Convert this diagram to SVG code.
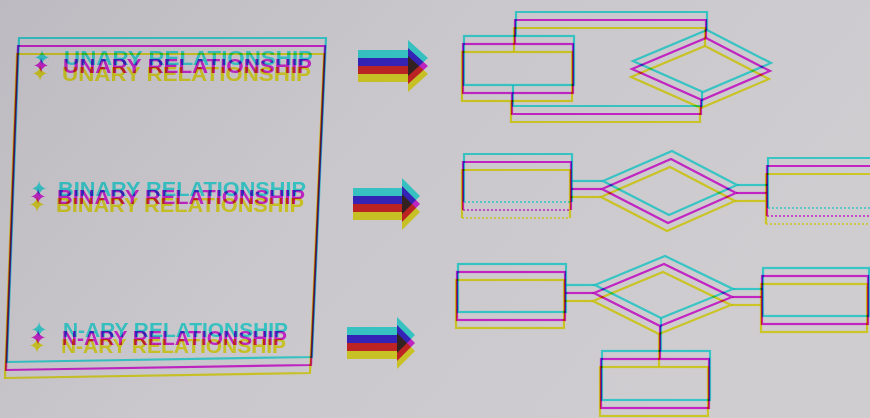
<svg xmlns="http://www.w3.org/2000/svg" xmlns:xlink="http://www.w3.org/1999/xlink" width="870" height="418" viewBox="0 0 870 418">
<defs>
<linearGradient id="bg" x1="0" y1="0" x2="1" y2="0.4">
<stop offset="0" stop-color="#bdbac1"/>
<stop offset="0.45" stop-color="#c9c7cb"/>
<stop offset="1" stop-color="#cfcdd0"/>
</linearGradient>
</defs>
<style>
.ln{fill:none;stroke:currentColor;stroke-width:2.2}
.dot{fill:none;stroke:currentColor;stroke-width:1.6;stroke-dasharray:2 2}
.fl{fill:currentColor;stroke:none}
.tx{fill:currentColor;font-family:"Liberation Sans",Arial,sans-serif;font-weight:bold;font-size:20px}
.bu{fill:currentColor;font-family:"DejaVu Sans",sans-serif;font-size:21px;text-anchor:middle}
.c{color:#45f6f2;mix-blend-mode:multiply}
.m{color:#f02ef0;mix-blend-mode:multiply}
.y{color:#fbf52e;mix-blend-mode:multiply}
</style>
<rect width="870" height="418" fill="url(#bg)"/>

<!-- left list panel -->
<g id="list-panel">
  <use href="#s-panel" class="c" transform="translate(1,-8)"/>
  <g class="m"><g id="s-panel">
    <path class="ln" d="M18,46 L325,46 L311,365 L6,370 Z"/>
    <text class="bu" x="41" y="73">✦</text>
    <text class="tx" x="63" y="73" textLength="249" lengthAdjust="spacingAndGlyphs">UNARY RELATIONSHIP</text>
    <text class="bu" x="38" y="204">✦</text>
    <text class="tx" x="57" y="204" textLength="248" lengthAdjust="spacingAndGlyphs">BINARY RELATIONSHIP</text>
    <text class="bu" x="38" y="345">✦</text>
    <text class="tx" x="62" y="345" textLength="225" lengthAdjust="spacingAndGlyphs">N-ARY RELATIONSHIP</text>
  </g></g>
  <use href="#s-panel" class="y" transform="translate(-1,8)"/>
</g>

<!-- block arrows -->
<g id="arrows">
  <use href="#s-arrows" class="c" transform="translate(0,-8)"/>
  <g class="m"><g id="s-arrows">
    <path class="fl" d="M358,58 H408 V48 L428,66 L408,84 V74 H358 Z"/>
    <path class="fl" d="M353,196 H402 V186 L420,204 L402,222 V212 H353 Z"/>
    <path class="fl" d="M347,335 H397 V325 L415,343 L397,361 V351 H347 Z"/>
  </g></g>
  <use href="#s-arrows" class="y" transform="translate(0,8)"/>
</g>

<!-- unary -->
<g id="unary-entity">
  <use href="#s-ue" class="c" transform="translate(1,-8)"/>
  <g class="m"><rect id="s-ue" class="ln" x="463" y="44" width="110" height="49"/></g>
  <use href="#s-ue" class="y" transform="translate(-1,8)"/>
</g>
<g id="unary-relationship">
  <use href="#s-ur" class="c" transform="translate(1,-8)"/>
  <g class="m"><polygon id="s-ur" class="ln" points="632,69 706,38 770,71 702,100"/></g>
  <use href="#s-ur" class="y" transform="translate(-1,8)"/>
</g>

<!-- binary -->
<g id="binary-entity-left">
  <use href="#s-bel" class="c" transform="translate(1,-8)"/>
  <g class="m"><g id="s-bel"><path class="ln" d="M463,210 V162 H571 V210"/><path class="dot" d="M463,210 H571"/></g></g>
  <use href="#s-bel" class="y" transform="translate(-1,8)"/>
</g>
<g id="binary-relationship">
  <use href="#s-br" class="c" transform="translate(1,-8)"/>
  <g class="m"><polygon id="s-br" class="ln" points="602,189 671,159 736,193 668,223"/></g>
  <use href="#s-br" class="y" transform="translate(-1,8)"/>
</g>
<g id="binary-entity-right">
  <use href="#s-ber" class="c" transform="translate(1,-8)"/>
  <g class="m"><g id="s-ber"><path class="ln" d="M872,166 H767 V216"/><path class="dot" d="M767,216 H872"/></g></g>
  <use href="#s-ber" class="y" transform="translate(-1,8)"/>
</g>

<!-- n-ary -->
<g id="nary-entity-left">
  <use href="#s-nel" class="c" transform="translate(1,-8)"/>
  <g class="m"><rect id="s-nel" class="ln" x="457" y="272" width="108" height="48"/></g>
  <use href="#s-nel" class="y" transform="translate(-1,8)"/>
</g>
<g id="nary-relationship">
  <use href="#s-nr" class="c" transform="translate(1,-8)"/>
  <g class="m"><polygon id="s-nr" class="ln" points="594,293 664,264 732,297 660,326"/></g>
  <use href="#s-nr" class="y" transform="translate(-1,8)"/>
</g>
<g id="nary-entity-right">
  <use href="#s-ner" class="c" transform="translate(1,-8)"/>
  <g class="m"><rect id="s-ner" class="ln" x="762" y="276" width="106" height="48"/></g>
  <use href="#s-ner" class="y" transform="translate(-1,8)"/>
</g>
<g id="nary-entity-bottom">
  <use href="#s-neb" class="c" transform="translate(1,-8)"/>
  <g class="m"><rect id="s-neb" class="ln" x="601" y="359" width="108" height="49"/></g>
  <use href="#s-neb" class="y" transform="translate(-1,8)"/>
</g>

<!-- connectors -->
<g id="connectors">
  <use href="#s-conn" class="c" transform="translate(1,-8)"/>
  <g class="m"><g id="s-conn">
    <path class="ln" d="M515,44 V20 H706 V38"/>
    <path class="ln" d="M512,93 V114 H701 V100"/>
    <path class="ln" d="M571,189 H602"/>
    <path class="ln" d="M736,193 H767"/>
    <path class="ln" d="M565,293 H594"/>
    <path class="ln" d="M732,297 H762"/>
    <path class="ln" d="M660,326 V359"/>
  </g></g>
  <use href="#s-conn" class="y" transform="translate(-1,8)"/>
</g>
</svg>
